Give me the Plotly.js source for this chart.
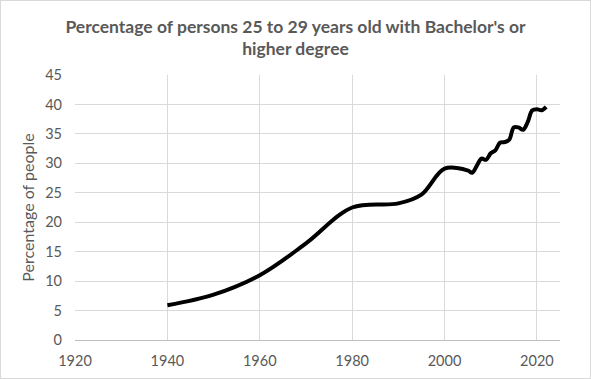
<!DOCTYPE html>
<html>
<head>
<meta charset="utf-8">
<script src="https://cdn.plot.ly/plotly-3.0.1.min.js"></script>
<style>
html,body{margin:0;padding:0;background:#fff;}
#chart{position:absolute;left:0;top:0;width:591px;height:379px;}
#frame{position:absolute;left:0;top:0;width:589px;height:377px;border:1px solid #d9d9d9;pointer-events:none;}
</style>
</head>
<body>
<div id="chart"></div>
<div id="frame"></div>
<script>
const years = [1940, 1950, 1960, 1970, 1980, 1990, 1995, 2000, 2005, 2006, 2007, 2008, 2009, 2010, 2011, 2012, 2013, 2014, 2015, 2016, 2017, 2018, 2019, 2020, 2021, 2022];
const pct = [5.9, 7.7, 11.0, 16.4, 22.5, 23.2, 24.7, 29.1, 28.8, 28.4, 29.6, 30.8, 30.6, 31.7, 32.2, 33.5, 33.6, 34.0, 36.1, 36.1, 35.7, 37.0, 39.0, 39.2, 39.0, 39.6];
const xTicks = [1920, 1940, 1960, 1980, 2000, 2020];
const yTicks = [0, 5, 10, 15, 20, 25, 30, 35, 40, 45];

const fontFam = 'Lato, "Open Sans", sans-serif';
Plotly.newPlot('chart', [{
  x: years, y: pct, type: 'scatter', mode: 'lines',
  line: {color: '#000000', width: 4, shape: 'spline', smoothing: 1},
  hoverinfo: 'none'
}], {
  width: 591, height: 379,
  margin: {l: 75, r: 31, t: 75, b: 39},
  paper_bgcolor: '#ffffff', plot_bgcolor: '#ffffff',
  showlegend: false,
  title: {
    text: "Percentage of persons 25 to 29 years old with Bachelor's or<br>higher degree",
    font: {family: fontFam, size: 17.5, color: '#595959', weight: 700},
    x: 0.5, xanchor: 'center', y: 0.914, yanchor: 'top', pad: {t: 0}
  },
  xaxis: {
    range: [1920, 2025], tickvals: xTicks, ticktext: xTicks.map(String),
    showgrid: true, gridcolor: '#d9d9d9', gridwidth: 1,
    zeroline: false, showline: false, ticks: '', ticklabelstandoff: 10,
    tickfont: {family: fontFam, size: 14.5, color: '#595959'}
  },
  yaxis: {
    range: [0, 45], tickvals: yTicks, ticktext: yTicks.map(String),
    showgrid: true, gridcolor: '#d9d9d9', gridwidth: 1,
    zeroline: true, zerolinecolor: '#bfbfbf', zerolinewidth: 1,
    showline: false, ticks: '', ticklen: 0, ticklabelstandoff: 12,
    tickfont: {family: fontFam, size: 14.5, color: '#595959'},
    title: {text: 'Percentage of people', font: {family: fontFam, size: 16, color: '#595959'}, standoff: 6}
  }
}, {staticPlot: true});
</script>
</body>
</html>
